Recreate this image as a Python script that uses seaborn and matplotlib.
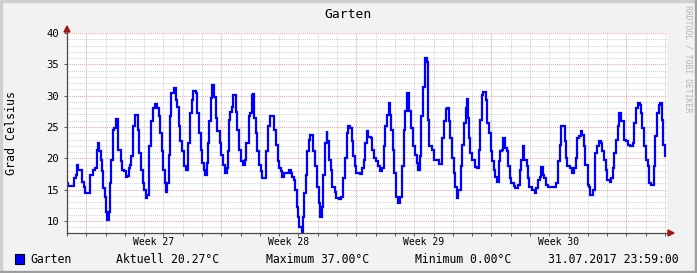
import matplotlib
matplotlib.use("Agg")
import matplotlib.pyplot as plt
from matplotlib.patches import Rectangle, Polygon
import seaborn as sns
import numpy as np

# ---------------- data (hours since 01.07.2017 00:00, temperature in °C) -------------
hours = [0, 1, 9, 11, 12, 14, 19, 21, 23, 29, 32, 35, 37, 39, 40, 42, 44, 45, 47, 48,
         50, 52, 54, 55, 57, 59, 61, 63, 64, 67, 69, 71, 73, 75, 77, 79, 80, 82, 84, 85,
         88, 90, 92, 94, 96, 98, 100, 102, 104, 105, 107, 109, 112, 114, 116, 118, 120, 122, 123, 125,
         127, 128, 130, 133, 135, 137, 139, 141, 143, 146, 148, 150, 151, 153, 155, 157, 160, 162, 164, 167,
         168, 170, 172, 174, 175, 177, 179, 181, 183, 185, 187, 190, 192, 194, 196, 199, 200, 202, 203, 205,
         207, 210, 212, 214, 216, 219, 221, 223, 226, 228, 230, 232, 233, 235, 237, 239, 241, 243, 248, 250,
         252, 257, 258, 260, 262, 264, 266, 268, 270, 276, 279, 280, 282, 284, 286, 288, 289, 292, 294, 295,
         297, 299, 301, 302, 306, 308, 311, 313, 315, 317, 319, 321, 323, 324, 326, 328, 330, 333, 335, 339,
         341, 344, 346, 348, 350, 352, 354, 356, 358, 360, 365, 367, 369, 371, 373, 375, 378, 380, 382, 385,
         387, 389, 392, 394, 396, 398, 400, 402, 403, 405, 407, 409, 412, 414, 417, 419, 421, 423, 425, 426,
         428, 430, 433, 435, 437, 439, 441, 443, 445, 448, 449, 451, 454, 456, 463, 466, 467, 469, 471, 473,
         475, 477, 479, 481, 483, 485, 487, 490, 492, 494, 496, 498, 499, 500, 502, 504, 507, 510, 512, 514,
         516, 518, 521, 523, 525, 528, 529, 531, 533, 535, 537, 539, 541, 543, 545, 547, 549, 551, 553, 556,
         558, 561, 563, 565, 567, 569, 572, 573, 575, 579, 582, 584, 586, 588, 590, 592, 594, 596, 599, 609,
         611, 613, 615, 619, 621, 622, 626, 628, 631, 633, 635, 637, 639, 641, 643, 645, 648, 649, 651, 655,
         657, 660, 662, 665, 666, 668, 670, 672, 675, 677, 679, 681, 683, 685, 687, 689, 693, 696, 698, 700,
         704, 706, 708, 710, 713, 714, 716, 718, 720, 723, 724, 727, 730, 732, 734, 736, 738, 740, 742, 744]
temps = [16.0, 15.6, 16.8, 17.3, 18.9, 18.2, 16.3, 15.5, 14.5, 17.3, 18.1, 18.4, 21.3, 22.5, 21.1, 19.7, 17.9, 15.2, 13.9, 11.5,
         10.2, 11.5, 16.0, 19.7, 24.5, 24.8, 26.2, 25.1, 21.3, 19.5, 18.1, 17.9, 17.1, 17.2, 18.4, 18.9, 20.3, 25.1, 25.6, 26.9,
         24.5, 20.8, 18.1, 16.0, 15.0, 13.6, 14.2, 21.9, 24.0, 25.9, 28.0, 28.7, 28.0, 26.7, 24.0, 21.1, 18.1, 16.0, 14.7, 16.0,
         20.5, 26.7, 30.4, 31.3, 29.3, 28.2, 25.1, 22.7, 21.1, 18.8, 18.2, 18.9, 22.4, 27.2, 29.3, 30.8, 30.4, 27.2, 24.0, 21.3,
         19.2, 18.1, 17.3, 19.2, 22.4, 25.9, 29.6, 31.7, 29.8, 26.4, 24.3, 22.4, 20.5, 18.9, 17.6, 18.4, 21.1, 26.1, 27.4, 28.2,
         30.1, 27.4, 24.5, 21.3, 19.5, 18.9, 19.7, 22.4, 26.7, 27.2, 30.1, 30.3, 26.4, 24.0, 21.1, 18.9, 17.9, 16.8, 21.1, 25.1,
         26.8, 26.4, 24.5, 22.1, 19.5, 18.4, 17.9, 17.1, 17.6, 18.1, 17.7, 17.1, 16.5, 15.0, 12.3, 10.7, 9.1, 8.3, 10.7, 14.4,
         17.3, 21.1, 22.9, 23.7, 21.1, 18.7, 15.5, 12.8, 10.7, 12.3, 17.3, 22.4, 24.3, 22.7, 19.7, 18.1, 15.5, 14.7, 13.6, 13.5,
         13.9, 16.8, 20.0, 24.0, 25.1, 24.8, 22.7, 20.3, 18.7, 17.6, 17.5, 18.4, 19.7, 22.4, 24.3, 23.4, 23.2, 21.3, 20.0, 19.5,
         18.7, 17.9, 18.4, 21.9, 25.1, 26.9, 28.8, 26.9, 24.5, 21.3, 17.6, 13.9, 12.9, 13.9, 18.7, 24.5, 27.5, 30.4, 29.8, 27.5,
         24.8, 21.9, 20.5, 19.2, 18.1, 20.3, 26.7, 31.4, 36.0, 35.4, 26.1, 21.9, 21.3, 19.7, 19.1, 20.0, 23.2, 25.9, 27.8, 28.0,
         25.9, 23.2, 20.0, 17.6, 15.5, 13.6, 15.0, 18.7, 22.1, 25.6, 28.0, 29.4, 26.4, 23.2, 20.8, 19.7, 18.6, 18.4, 21.3, 26.1,
         30.1, 30.6, 29.3, 25.6, 24.0, 21.1, 19.5, 18.1, 17.1, 16.3, 19.5, 21.1, 21.3, 23.2, 21.6, 21.1, 18.7, 16.8, 16.0, 15.6,
         15.2, 15.8, 18.1, 19.7, 22.0, 19.7, 18.7, 16.8, 15.5, 15.0, 14.4, 15.2, 16.5, 17.1, 18.6, 17.3, 16.8, 15.8, 15.5, 16.0,
         19.5, 22.1, 25.1, 22.7, 20.0, 18.7, 18.4, 17.7, 18.4, 20.0, 23.2, 23.5, 24.3, 23.7, 21.9, 18.9, 15.8, 15.5, 14.2, 15.0,
         20.8, 21.9, 22.7, 22.5, 21.1, 19.7, 18.1, 16.5, 16.3, 16.8, 18.4, 20.8, 22.9, 25.1, 27.2, 25.9, 22.9, 22.7, 22.1, 21.9,
         22.4, 25.6, 28.0, 28.8, 28.5, 27.2, 24.8, 21.9, 19.7, 18.7, 16.0, 15.8, 18.7, 23.5, 27.2, 28.5, 28.8, 26.1, 22.1, 20.3]

title = "Garten"
series_name = "Garten"
y_label = "Grad Celsius"
y_major = [10, 15, 20, 25, 30, 35, 40]
y_minor = list(range(9, 41))
day_hours = list(range(0, 745, 24))
week_start_hours = [24, 192, 360, 528, 696]
week_label_hours = [108, 276, 444, 612]
week_labels = ["Week 27", "Week 28", "Week 29", "Week 30"]
current_val = 20.27
max_val = 37.00
min_val = 0.00
stamp = "31.07.2017 23:59:00"
watermark = "RRDTOOL / TOBI OETIKER"

# ---------------- figure -------------
W, H = 697, 273
plt.rcParams['font.family'] = ['DejaVu Sans Mono']
fig = plt.figure(figsize=(W / 100, H / 100), dpi=100, facecolor='#F2F2F2')

# 3D frame
fig.patches.append(Rectangle((0, 1 - 2 / H), 1, 2 / H, transform=fig.transFigure, color='#CFCFCF', zorder=0))
fig.patches.append(Rectangle((0, 0), 2 / W, 1, transform=fig.transFigure, color='#CFCFCF', zorder=0))
fig.patches.append(Rectangle((0, 0), 1, 2 / H, transform=fig.transFigure, color='#9E9E9E', zorder=0))
fig.patches.append(Rectangle((1 - 2 / W, 0), 2 / W, 1, transform=fig.transFigure, color='#9E9E9E', zorder=0))

ax = fig.add_axes([67 / W, 1 - 233 / H, 600 / W, 200 / H])
ax.set_facecolor('white')

sns.lineplot(x=hours, y=temps, ax=ax, drawstyle='steps-post', estimator=None, sort=False,
             color='#0000FF', linewidth=1.6, solid_joinstyle='miter', zorder=5)

ax.set_xlim(0, 746.5)
ax.set_ylim(8.085, 40)

# grids
ax.set_yticks(y_major)
ax.set_yticks(y_minor, minor=True)
ax.set_xticks(week_label_hours)
ax.set_xticklabels([])
ax.set_xticks(day_hours, minor=True)
ax.grid(False)
dot = (0, (1, 1))
for v in y_minor:
    if v not in y_major:
        ax.axhline(v, color='#D2D2D2', lw=0.75, ls=dot, zorder=1)
for v in y_major:
    ax.axhline(v, color='#E9A6A6', lw=0.75, ls=dot, zorder=2)
for v in day_hours:
    if v not in week_start_hours:
        ax.axvline(v, color='#D2D2D2', lw=0.75, ls=dot, zorder=1)
for v in week_start_hours:
    ax.axvline(v, color='#E9A6A6', lw=0.75, ls=dot, zorder=2)

for s in ax.spines.values():
    s.set_visible(False)

ax.tick_params(axis='x', which='major', length=0, labelbottom=False)
ax.tick_params(axis='x', which='minor', length=2, width=0.7, color='#555555', direction='out')
ax.tick_params(axis='y', which='major', length=2, width=0.7, color='#555555', pad=3.5,
               labelsize=7.6, labelcolor='#000000')
ax.tick_params(axis='y', which='minor', length=0)
ax.set_yticklabels([str(v) for v in y_major])

for h, lab in zip(week_label_hours, week_labels):
    ax.text(h, -0.043, lab, transform=ax.get_xaxis_transform(), ha='center', va='center',
            fontsize=7.0, color='black')

# axis lines + arrows
axis_col = '#4A4A4A'
arrow_col = '#A01818'
ax.plot([0, 0], [0, 1 + 3 / 200], transform=ax.transAxes, color=axis_col, lw=0.9, clip_on=False, zorder=6)
ax.plot([0, 1 + 1 / 600], [0, 0], transform=ax.transAxes, color=axis_col, lw=0.9, clip_on=False, zorder=6)
ax.add_patch(Polygon([(-3 / 600, 1 + 1 / 200), (3 / 600, 1 + 1 / 200), (0, 1 + 7 / 200)],
                     closed=True, transform=ax.transAxes, color=arrow_col, clip_on=False, zorder=7))
ax.add_patch(Polygon([(1 + 1 / 600, -3 / 200), (1 + 1 / 600, 3 / 200), (1 + 7 / 600, 0)],
                     closed=True, transform=ax.transAxes, color=arrow_col, clip_on=False, zorder=7))

ax.set_xlabel("")
ax.set_ylabel("")

# texts
fig.text(348 / W, 1 - 14 / H, title, ha='center', va='center', fontsize=9.4, color='black')
fig.text(12 / W, 1 - 133 / H, y_label, ha='center', va='center', rotation=90, fontsize=8.4, color='black')
fig.text(688 / W, 1 - 59 / H, watermark, ha='center', va='center', rotation=270, fontsize=5.9, color='#B4B4B4')

ly = 1 - 259.5 / H
fig.patches.append(Rectangle((15 / W, 1 - 264 / H), 9 / W, 10 / H, transform=fig.transFigure,
                             facecolor='#0000FF', edgecolor='black', lw=0.8, zorder=3))
fig.text(30 / W, ly, series_name, ha='left', va='center', fontsize=8.3)
fig.text(116 / W, ly, f"Aktuell {current_val:.2f}°C", ha='left', va='center', fontsize=8.3)
fig.text(266 / W, ly, f"Maximum {max_val:.2f}°C", ha='left', va='center', fontsize=8.3)
fig.text(415 / W, ly, f"Minimum {min_val:.2f}°C", ha='left', va='center', fontsize=8.3)
fig.text(548 / W, ly, stamp, ha='left', va='center', fontsize=8.3)

fig.savefig("out.png", dpi=100, facecolor=fig.get_facecolor())
